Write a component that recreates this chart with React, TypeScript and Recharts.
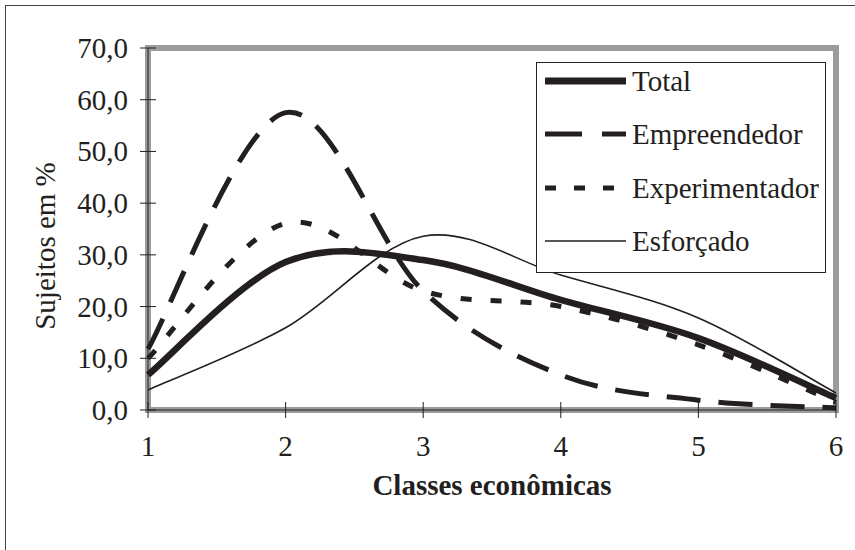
import React from 'react';
import { LineChart, Line, XAxis, YAxis, ReferenceArea, Legend, Label } from 'recharts';

// classes econômicas (x) and % of subjects per profile
const classes = [1, 2, 3, 4, 5, 6];
const total = [6.8, 28.6, 29.0, 21.3, 13.9, 2.3];
const empreendedor = [11.8, 57.5, 23.0, 6.8, 1.9, 0.4];
const experimentador = [10.0, 36.1, 23.0, 20.0, 12.6, 1.5];
const esforcado = [3.9, 15.9, 33.6, 26.1, 17.8, 3.3];
const yTicks = [0, 10, 20, 30, 40, 50, 60, 70];

const INK = '#231f20';
const FONT = "'Liberation Serif', 'Times New Roman', serif";

const series = [
  { key: 'total', name: 'Total', width: 6.5, dash: undefined as string | undefined, legendDash: undefined as string | undefined },
  { key: 'empreendedor', name: 'Empreendedor', width: 5, dash: '34 18', legendDash: '37 20' },
  { key: 'experimentador', name: 'Experimentador', width: 5, dash: '11 19', legendDash: '11 18' },
  { key: 'esforcado', name: 'Esforçado', width: 1.6, dash: undefined, legendDash: undefined },
];

const data = classes.map((c, i) => ({
  classe: c,
  total: total[i],
  empreendedor: empreendedor[i],
  experimentador: experimentador[i],
  esforcado: esforcado[i],
}));

// Excel-like smoothed line (Catmull-Rom through the points)
const smooth = (context: any) => {
  let pts: number[][] = [];
  return {
    areaStart() {},
    areaEnd() {},
    lineStart() {
      pts = [];
    },
    point(x: number, y: number) {
      pts.push([+x, +y]);
    },
    lineEnd() {
      const n = pts.length;
      if (!n) return;
      context.moveTo(pts[0][0], pts[0][1]);
      for (let i = 0; i < n - 1; i++) {
        const p0 = pts[Math.max(i - 1, 0)];
        const p1 = pts[i];
        const p2 = pts[i + 1];
        const p3 = pts[Math.min(i + 2, n - 1)];
        context.bezierCurveTo(
          p1[0] + (p2[0] - p0[0]) / 6,
          p1[1] + (p2[1] - p0[1]) / 6,
          p2[0] - (p3[0] - p1[0]) / 6,
          p2[1] - (p3[1] - p1[1]) / 6,
          p2[0],
          p2[1]
        );
      }
    },
  };
};

const YTick = ({ x, y, payload }: any) => (
  <g>
    <line x1={x - 8} x2={x + 8} y1={y} y2={y} stroke={INK} />
    <text x={x - 20} y={y + 10} textAnchor="end" fontSize={29} fontFamily={FONT} fill={INK}>
      {Number(payload.value).toFixed(1).replace('.', ',')}
    </text>
  </g>
);

const XTick = ({ x, y, payload }: any) => (
  <g>
    <line x1={x} x2={x} y1={y - 8} y2={y + 8} stroke={INK} />
    <text x={x} y={y + 46} textAnchor="middle" fontSize={29} fontFamily={FONT} fill={INK}>
      {payload.value}
    </text>
  </g>
);

// legend keeps the series order (Total, Empreendedor, Experimentador, Esforçado)
const renderLegend = () => (
  <div
    style={{
      position: 'relative',
      width: 290,
      height: 211,
      boxSizing: 'border-box',
      border: `1px solid ${INK}`,
      background: '#fff',
      fontFamily: FONT,
      color: INK,
    }}
  >
    {series.map((s, i) => (
      <div
        key={s.key}
        style={{
          position: 'absolute',
          left: 8,
          top: i * 53.3,
          height: 36,
          display: 'flex',
          alignItems: 'center',
          whiteSpace: 'nowrap',
        }}
      >
        <svg width={81} height={12} style={{ display: 'block' }}>
          <line
            x1={0}
            x2={81}
            y1={6}
            y2={6}
            stroke={INK}
            strokeWidth={s.key === 'total' ? 7 : s.width}
            strokeDasharray={s.legendDash}
          />
        </svg>
        <span style={{ fontSize: 29, marginLeft: 6, lineHeight: '36px' }}>{s.name}</span>
      </div>
    ))}
  </div>
);

export default function App() {
  return (
    <div style={{ position: 'absolute', left: 0, top: 0, width: 855, height: 550, background: '#fff', overflow: 'hidden' }}>
      <div
        style={{
          position: 'absolute',
          left: 5,
          top: 5,
          width: 860,
          height: 560,
          borderTop: '1.5px solid #444',
          borderLeft: '1.5px solid #444',
        }}
      />
      <LineChart width={855} height={550} data={data} margin={{ top: 48, right: 19, bottom: 0, left: 0 }}>
        <ReferenceArea x1={1} x2={6} y1={0} y2={70} fill="none" stroke="#9b9b9b" strokeWidth={6} ifOverflow="visible" />
        <XAxis
          dataKey="classe"
          type="number"
          domain={[1, 6]}
          ticks={classes}
          height={140}
          tickSize={0}
          tickMargin={0}
          tickLine={false}
          axisLine={{ stroke: INK }}
          tick={<XTick />}
        >
          <Label
            content={({ viewBox }: any) => (
              <text
                x={viewBox.x + viewBox.width / 2}
                y={viewBox.y + 85}
                textAnchor="middle"
                fontSize={29}
                fontWeight="bold"
                fontFamily={FONT}
                fill={INK}
              >
                Classes econômicas
              </text>
            )}
          />
        </XAxis>
        <YAxis
          type="number"
          domain={[0, 70]}
          ticks={yTicks}
          width={148}
          tickSize={0}
          tickMargin={0}
          tickLine={false}
          axisLine={{ stroke: INK }}
          tick={<YTick />}
        >
          <Label
            content={() => (
              <text
                x={55}
                y={246}
                transform="rotate(-90 55 246)"
                textAnchor="middle"
                fontSize={29}
                fontFamily={FONT}
                fill={INK}
              >
                Sujeitos em %
              </text>
            )}
          />
        </YAxis>
        <Legend
          layout="vertical"
          align="center"
          verticalAlign="middle"
          content={renderLegend}
          wrapperStyle={{ left: 536, top: 62, width: 290, height: 211 }}
        />
        {series.map((s) => (
          <Line
            key={s.key}
            dataKey={s.key}
            name={s.name}
            type={smooth as any}
            stroke={INK}
            strokeWidth={s.width}
            strokeDasharray={s.dash}
            strokeLinecap="butt"
            dot={false}
            activeDot={false}
            isAnimationActive={false}
          />
        ))}
      </LineChart>
    </div>
  );
}
